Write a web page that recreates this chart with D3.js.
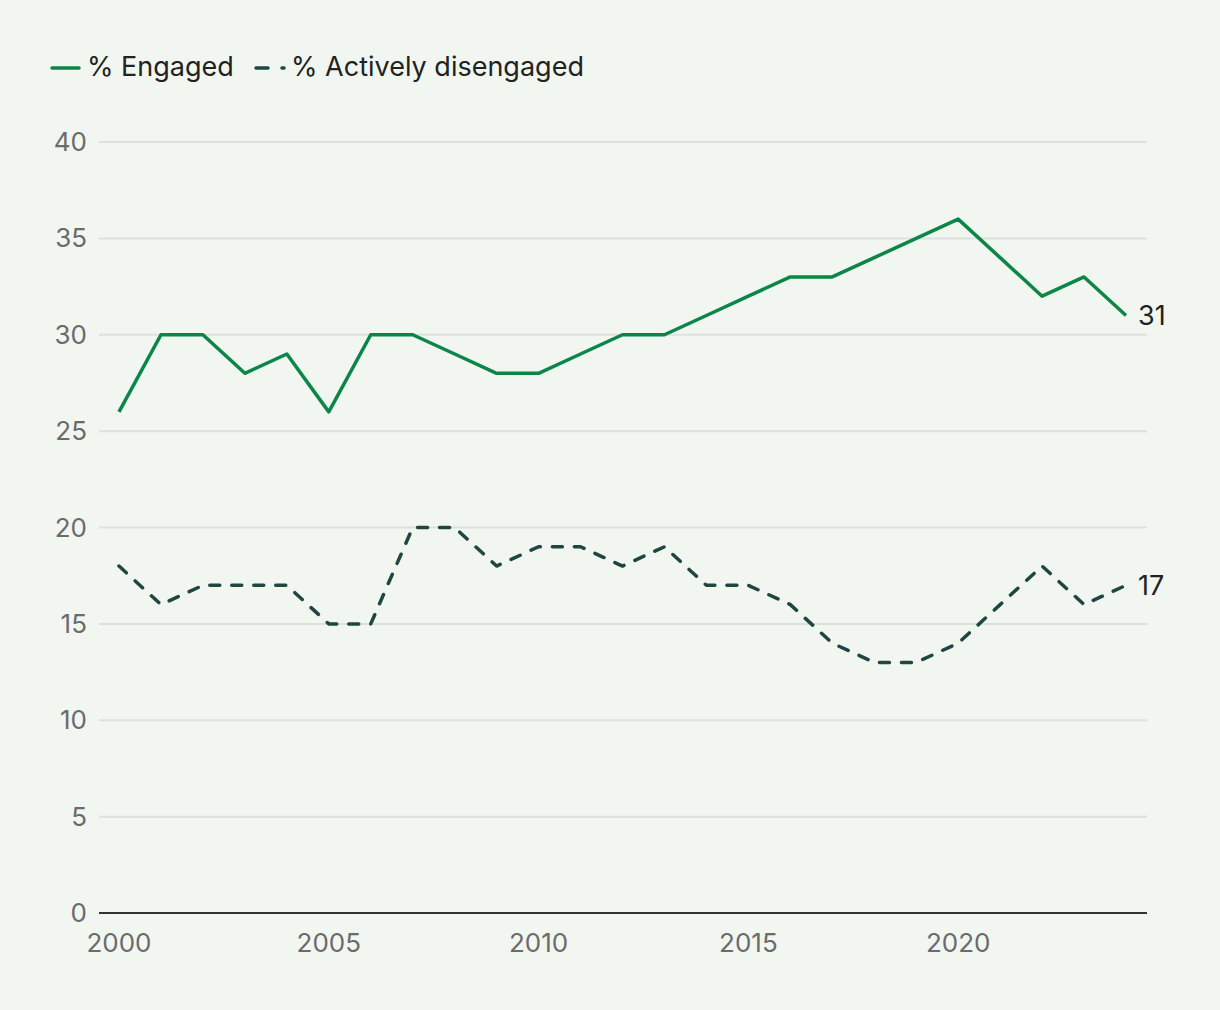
<!DOCTYPE html>
<html>
<head>
<script src="https://d3js.org/d3.v7.min.js"></script>
<style>
body { margin: 0; background: #f1f7f0; }
svg { display: block; font-family: Inter, "Noto Sans", sans-serif; }
</style>
</head>
<body>
<script>
var years = d3.range(2000, 2025);
var engaged = [26, 30, 30, 28, 29, 26, 30, 30, 29, 28, 28, 29, 30, 30, 31, 32, 33, 33, 34, 35, 36, 34, 32, 33, 31];
var disengaged = [18, 16, 17, 17, 17, 15, 15, 20, 20, 18, 19, 19, 18, 19, 17, 17, 16, 14, 13, 13, 14, 16, 18, 16, 17];
var yTicks = [0, 5, 10, 15, 20, 25, 30, 35, 40];
var xTicks = [2000, 2005, 2010, 2015, 2020];
var seriesNames = ["% Engaged", "% Actively disengaged"];

var W = 1220, H = 1010;
var green = "#0b8548", dark = "#1f4642";

var svg = d3.select("body").append("svg").attr("width", W).attr("height", H);
svg.append("rect").attr("width", W).attr("height", H).attr("fill", "#f1f7f0");

var x = d3.scaleLinear().domain([2000, 2024]).range([119, 1126]);
var y = d3.scaleLinear().domain([0, 40]).range([913, 142]);

// gridlines
svg.append("g").selectAll("line").data(yTicks.filter(function (d) { return d > 0; }))
	.enter().append("line")
	.attr("x1", 99).attr("x2", 1147)
	.attr("y1", function (d) { return y(d); }).attr("y2", function (d) { return y(d); })
	.attr("stroke", "#dce2db").attr("stroke-width", 2);

// y labels
svg.append("g").selectAll("text").data(yTicks).enter().append("text")
	.attr("x", 87).attr("y", function (d) { return y(d); })
	.attr("dy", "0.35em").attr("text-anchor", "end")
	.attr("font-size", 26).attr("fill", "#6b6b6b")
	.text(function (d) { return d; });

// baseline
svg.append("line").attr("x1", 99).attr("x2", 1147).attr("y1", y(0)).attr("y2", y(0))
	.attr("stroke", "#333").attr("stroke-width", 2);

// x labels
svg.append("g").selectAll("text").data(xTicks).enter().append("text")
	.attr("x", function (d) { return x(d); }).attr("y", 952)
	.attr("text-anchor", "middle")
	.attr("font-size", 26).attr("fill", "#6b6b6b")
	.text(function (d) { return d; });

var line = d3.line().x(function (d) { return x(d[0]); }).y(function (d) { return y(d[1]); });

svg.append("path").datum(d3.zip(years, engaged)).attr("d", line)
	.attr("fill", "none").attr("stroke", green).attr("stroke-width", 3.5)
	.attr("stroke-linejoin", "round");

svg.append("path").datum(d3.zip(years, disengaged)).attr("d", line)
	.attr("fill", "none").attr("stroke", dark).attr("stroke-width", 3.5)
	.attr("stroke-dasharray", "10 12").attr("stroke-linecap", "round")
	.attr("stroke-linejoin", "round");

// end labels
svg.append("text").attr("x", x(2024) + 12).attr("y", y(engaged[engaged.length - 1]))
	.attr("dy", "0.35em").attr("font-size", 27).attr("fill", "#222")
	.text(engaged[engaged.length - 1]);
svg.append("text").attr("x", x(2024) + 12).attr("y", y(disengaged[disengaged.length - 1]))
	.attr("dy", "0.35em").attr("font-size", 27).attr("fill", "#222")
	.text(disengaged[disengaged.length - 1]);

// legend
var lg = svg.append("g");
lg.append("line").attr("x1", 52).attr("x2", 79).attr("y1", 68).attr("y2", 68)
	.attr("stroke", green).attr("stroke-width", 3.5).attr("stroke-linecap", "round");
lg.append("text").attr("x", 87).attr("y", 67).attr("dy", "0.35em")
	.attr("font-size", 27).attr("fill", "#222").text(seriesNames[0]);
lg.append("line").attr("x1", 256).attr("x2", 284).attr("y1", 68).attr("y2", 68)
	.attr("stroke", dark).attr("stroke-width", 3.5).attr("stroke-linecap", "round")
	.attr("stroke-dasharray", "12 14");
lg.append("text").attr("x", 291).attr("y", 67).attr("dy", "0.35em")
	.attr("font-size", 27).attr("fill", "#222").text(seriesNames[1]);
</script>
</body>
</html>
